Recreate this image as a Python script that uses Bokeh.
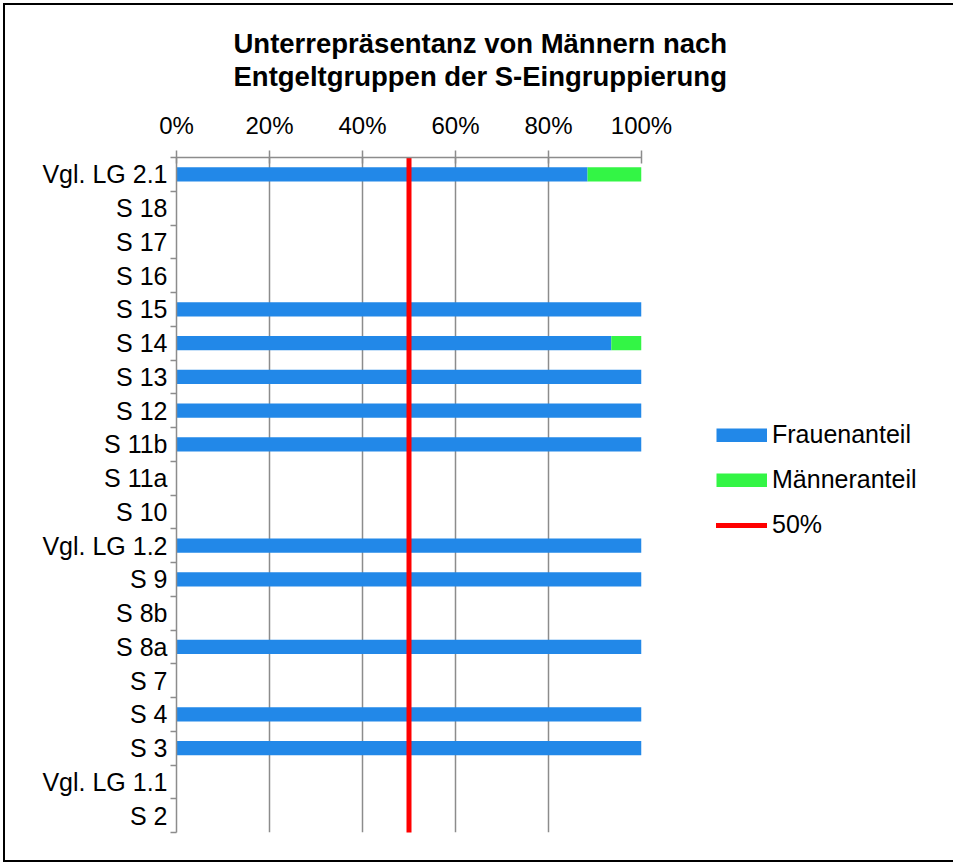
import numpy as np
from bokeh.plotting import figure
from bokeh.models import (Range1d, FixedTicker, Legend, LegendItem, Title,
                          ColumnDataSource, NumeralTickFormatter, InlineStyleSheet)
from bokeh.embed import file_html
from bokeh.resources import INLINE

# ---------------- data ----------------
categories = ["Vgl. LG 2.1", "S 18", "S 17", "S 16", "S 15", "S 14", "S 13", "S 12",
              "S 11b", "S 11a", "S 10", "Vgl. LG 1.2", "S 9", "S 8b", "S 8a", "S 7",
              "S 4", "S 3", "Vgl. LG 1.1", "S 2"]
frauen = [0.884, 0, 0, 0, 1.0, 0.935, 1.0, 1.0, 1.0, 0, 0, 1.0, 1.0, 0, 1.0, 0,
          1.0, 1.0, 0, 0]
maenner = [0.116, 0, 0, 0, 0.0, 0.065, 0.0, 0.0, 0.0, 0, 0, 0.0, 0.0, 0, 0.0, 0,
           0.0, 0.0, 0, 0]
ref_value = 0.5
x_ticks = [0, 0.2, 0.4, 0.6, 0.8, 1.0]
series_names = ["Frauenanteil", "Männeranteil", "50%"]
title_lines = ["Unterrepräsentanz von Männern nach", "Entgeltgruppen der S-Eingruppierung"]

FONT = "Liberation Sans"
BLUE = "#2288E8"
GREEN = "#33F545"
RED = "#FF0000"
GRID = "#8C8C8C"

n = len(categories)
ypos = [n - 0.5 - i for i in range(n)]
src = ColumnDataSource(dict(y=ypos, cat=categories, frauen=frauen, maenner=maenner,
                            left_m=frauen, right_m=[f + m for f, m in zip(frauen, maenner)]))

p = figure(frame_width=465, frame_height=675, output_backend="svg", toolbar_location=None,
           x_range=Range1d(0, 1), y_range=Range1d(0, n),
           x_axis_location="above", min_border_left=176, min_border_right=312,
           min_border_top=157, min_border_bottom=33, outline_line_color=None)
p.stylesheets = [InlineStyleSheet(css=(
    ":host { position: relative; }"
    ":host::after { content: ''; position: absolute; left: 3px; top: 3px; right: 3px;"
    " bottom: 3px; border: 2px solid black; pointer-events: none; z-index: 100; }"))]

# grid
p.xgrid.ticker = FixedTicker(ticks=x_ticks)
p.xgrid.grid_line_color = GRID
p.xgrid.grid_line_width = 1.5
p.ygrid.grid_line_color = None

# x axis (top)
xa = p.xaxis[0]
xa.ticker = FixedTicker(ticks=x_ticks)
xa.formatter = NumeralTickFormatter(format="0%")
xa.axis_line_color = GRID
xa.axis_line_width = 1.5
xa.major_tick_line_color = GRID
xa.major_tick_line_width = 1.5
xa.major_tick_in = 6
xa.major_tick_out = 7
xa.minor_tick_line_color = None
xa.major_label_text_font = FONT
xa.major_label_text_font_size = "24px"
xa.major_label_text_color = "black"
xa.major_label_standoff = 12

# y axis (left) -- labels at category centres, ticks at boundaries
ya = p.yaxis[0]
ya.ticker = FixedTicker(ticks=ypos, minor_ticks=list(range(n + 1)))
ya.major_label_overrides = {y: c for y, c in zip(ypos, categories)}
ya.axis_line_color = GRID
ya.axis_line_width = 1.5
ya.major_tick_line_color = None
ya.major_tick_out = 0
ya.major_tick_in = 0
ya.minor_tick_line_color = GRID
ya.minor_tick_line_width = 1.5
ya.minor_tick_out = 6
ya.minor_tick_in = 0
ya.major_label_text_font = FONT
ya.major_label_text_font_size = "25px"
ya.major_label_text_color = "black"
ya.major_label_standoff = 3

# bars
bh = 0.42
p.hbar(y="y", left=0, right="frauen", height=bh, source=src,
       fill_color=BLUE, line_color=None)
p.hbar(y="y", left="left_m", right="right_m", height=bh, source=src,
       fill_color=GREEN, line_color=None)

# 50% line
r_l = p.segment(x0=[ref_value], x1=[ref_value], y0=[0], y1=[n],
                line_color=RED, line_width=5, line_cap="round")

# legend proxies (thick lines so that the swatches fill the whole glyph width)
lg_f = p.line(x=[np.nan], y=[np.nan], line_color=BLUE, line_width=14, line_cap="butt")
lg_m = p.line(x=[np.nan], y=[np.nan], line_color=GREEN, line_width=14, line_cap="butt")

legend = Legend(items=[LegendItem(label=series_names[0], renderers=[lg_f]),
                       LegendItem(label=series_names[1], renderers=[lg_m]),
                       LegendItem(label=series_names[2], renderers=[r_l])],
                location=(75, 293), padding=0, margin=0, spacing=16,
                glyph_width=51, glyph_height=14, label_height=23,
                label_standoff=5, label_text_font=FONT,
                label_text_font_size="25px", label_text_color="black",
                border_line_color=None, background_fill_alpha=0)
p.add_layout(legend, "right")

# title (two lines, outermost added last) with a small spacer above the axis
p.title = None
p.add_layout(Title(text=" ", text_font_size="13px", standoff=0), "above")
p.add_layout(Title(text=title_lines[1], align="left", offset=57,
                   text_font=FONT, text_font_style="bold", text_font_size="27.5px",
                   text_color="black", standoff=0), "above")
p.add_layout(Title(text=title_lines[0], align="left", offset=57,
                   text_font=FONT, text_font_style="bold", text_font_size="27.5px",
                   text_color="black", standoff=0), "above")

open("out.html", "w").write(file_html(p, INLINE))
